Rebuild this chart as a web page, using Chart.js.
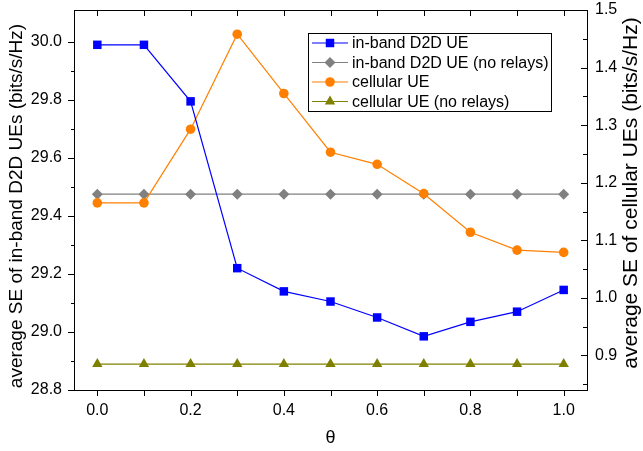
<!DOCTYPE html>
<html>
<head>
<meta charset="utf-8">
<script src="https://cdn.jsdelivr.net/npm/chart.js@4.4.0/dist/chart.umd.min.js"></script>
<style>
  html, body { margin: 0; padding: 0; background: #fff; }
  #contenedor { width: 643px; height: 451px; }
</style>
</head>
<body>
<div id="contenedor"><canvas id="grafica"></canvas></div>
<script>
// datos
const theta = [0.0, 0.1, 0.2, 0.3, 0.4, 0.5, 0.6, 0.7, 0.8, 0.9, 1.0];
const d2dRelays = [29.99, 29.99, 29.795, 29.22, 29.14, 29.105, 29.05, 28.985, 29.035, 29.07, 29.145];
const d2dNoRelays = [29.475, 29.475, 29.475, 29.475, 29.475, 29.475, 29.475, 29.475, 29.475, 29.475, 29.475];
const cellRelays = [1.165, 1.165, 1.293, 1.458, 1.355, 1.253, 1.232, 1.181, 1.114, 1.083, 1.079];
const cellNoRelays = [0.885, 0.885, 0.885, 0.885, 0.885, 0.885, 0.885, 0.885, 0.885, 0.885, 0.885];

const xTicks = [0.0, 0.2, 0.4, 0.6, 0.8, 1.0];
const yLeftTicks = [28.8, 29.0, 29.2, 29.4, 29.6, 29.8, 30.0];
const yRightTicks = [0.9, 1.0, 1.1, 1.2, 1.3, 1.4, 1.5];

const tituloIzq = 'average SE of in-band D2D UEs (bits/s/Hz)';
const tituloDer = 'average SE of cellular UEs (bits/s/Hz)';

const fuente = 'Arial, "Liberation Sans", sans-serif';
const puntos = arr => theta.map((t, i) => ({ x: t, y: arr[i] }));

// sin relleno extra para etiquetas en los bordes
const sinRelleno = s => { s.paddingTop = 0; s.paddingBottom = 0; s.paddingLeft = 0; s.paddingRight = 0; };

// texto girado, leído de abajo arriba
function textoVertical(ctx, texto, x, y, tam) {
  ctx.save();
  ctx.fillStyle = '#000';
  ctx.font = tam + 'px ' + fuente;
  ctx.textAlign = 'center';
  ctx.textBaseline = 'middle';
  ctx.translate(x, y);
  ctx.rotate(-Math.PI / 2);
  ctx.fillText(texto, 0, 0);
  ctx.restore();
}

// marcas de los ejes (mayores y menores), marco superior y títulos verticales
const marcasEjes = {
  id: 'marcasEjes',
  afterDraw(chart) {
    const { ctx, chartArea: a, scales } = chart;
    const r = v => Math.round(v) + 0.5;
    ctx.save();
    ctx.strokeStyle = '#000';
    ctx.lineWidth = 1;
    ctx.beginPath();
    ctx.moveTo(a.left, r(a.top));
    ctx.lineTo(a.right + 1, r(a.top));
    // eje x: abajo hacia fuera, arriba hacia dentro
    theta.forEach(t => {
      const px = r(scales.x.getPixelForValue(t));
      ctx.moveTo(px, a.bottom); ctx.lineTo(px, a.bottom + 6);
      ctx.moveTo(px, a.top); ctx.lineTo(px, a.top + 6);
    });
    // eje izquierdo
    for (let i = 0; i <= 12; i++) {
      const v = 28.8 + i * 0.1;
      const py = r(scales.y.getPixelForValue(v));
      const len = i % 2 === 0 ? 6 : 3;
      ctx.moveTo(a.left - len, py); ctx.lineTo(a.left, py);
    }
    // eje derecho (hacia dentro)
    for (let i = 0; i <= 13; i++) {
      const v = 0.85 + i * 0.05;
      const py = r(scales.y2.getPixelForValue(v));
      const len = i % 2 === 1 ? 6 : 4;
      ctx.moveTo(a.right - len, py); ctx.lineTo(a.right, py);
    }
    ctx.stroke();
    ctx.restore();

    textoVertical(ctx, tituloIzq, 17, 206, 19);
    textoVertical(ctx, tituloDer, 631, 193, 21);
  }
};

// leyenda dentro del área del gráfico
const leyenda = {
  id: 'leyenda',
  afterDraw(chart) {
    const { ctx } = chart;
    const x0 = 308, y0 = 33, w = 243, h = 78, fila = 19.5;
    ctx.save();
    ctx.fillStyle = '#fff';
    ctx.fillRect(x0, y0, w, h);
    ctx.strokeStyle = '#000';
    ctx.lineWidth = 1;
    ctx.strokeRect(x0 + 0.5, y0 + 0.5, w, h);
    chart.data.datasets.forEach((ds, i) => {
      const cy = y0 + 10 + i * fila;
      ctx.strokeStyle = ds.borderColor;
      ctx.lineWidth = 1.2;
      ctx.beginPath();
      ctx.moveTo(x0 + 4, cy); ctx.lineTo(x0 + 40, cy);
      ctx.stroke();
      ctx.fillStyle = ds.pointBackgroundColor;
      Chart.helpers.drawPoint(ctx, { pointStyle: ds.pointStyle, radius: ds.pointRadius, rotation: 0, borderWidth: 0 }, x0 + 22, cy);
      ctx.fillStyle = '#000';
      ctx.font = '16px ' + fuente;
      ctx.textAlign = 'left';
      ctx.textBaseline = 'middle';
      ctx.fillText(ds.label, x0 + 44, cy + 1);
    });
    ctx.restore();
  }
};

const ctx = document.getElementById('grafica').getContext('2d');
new Chart(ctx, {
  type: 'line',
  data: {
    datasets: [
      {
        label: 'in-band D2D UE', data: puntos(d2dRelays), yAxisID: 'y', order: 0,
        borderColor: '#0000ff', pointBackgroundColor: '#0000ff', pointStyle: 'rect', pointRadius: 6
      },
      {
        label: 'in-band D2D UE (no relays)', data: puntos(d2dNoRelays), yAxisID: 'y', order: 2,
        borderColor: '#808080', pointBackgroundColor: '#808080', pointStyle: 'rectRot', pointRadius: 5.5
      },
      {
        label: 'cellular UE', data: puntos(cellRelays), yAxisID: 'y2', order: 1,
        borderColor: '#ff8000', pointBackgroundColor: '#ff8000', pointStyle: 'circle', pointRadius: 4.8
      },
      {
        label: 'cellular UE (no relays)', data: puntos(cellNoRelays), yAxisID: 'y2', order: 3,
        borderColor: '#808000', pointBackgroundColor: '#808000', pointStyle: 'triangle', pointRadius: 6
      }
    ]
  },
  options: {
    responsive: true,
    maintainAspectRatio: false,
    animation: false,
    layout: { padding: { top: 10, left: 0, right: 0, bottom: 0 } },
    elements: {
      line: { borderWidth: 1.2, tension: 0 },
      point: { borderWidth: 0, hoverRadius: 6 }
    },
    plugins: {
      legend: { display: false },
      tooltip: { enabled: false }
    },
    scales: {
      x: {
        type: 'linear',
        min: -0.05,
        max: 1.05,
        afterBuildTicks: s => { s.ticks = xTicks.map(v => ({ value: v })); },
        afterFit: s => { s.height = 61; sinRelleno(s); },
        ticks: {
          color: '#000', font: { family: fuente, size: 16 }, padding: 11,
          maxRotation: 0, autoSkip: false,
          callback: v => Number(v).toFixed(1)
        },
        grid: { display: false, drawTicks: false },
        border: { display: true, color: '#000', width: 1 },
        title: { display: true, text: 'θ', color: '#000', font: { family: fuente, size: 18 }, padding: { top: 0, bottom: 2 } }
      },
      y: {
        position: 'left',
        min: 28.8,
        max: 30.11,
        afterBuildTicks: s => { s.ticks = yLeftTicks.map(v => ({ value: v })); },
        afterFit: s => { s.width = 74; sinRelleno(s); },
        ticks: {
          color: '#000', font: { family: fuente, size: 16 }, padding: 12, autoSkip: false,
          callback: v => Number(v).toFixed(1)
        },
        grid: { display: false, drawTicks: false },
        border: { display: true, color: '#000', width: 1 }
      },
      y2: {
        position: 'right',
        min: 0.84,
        max: 1.5,
        afterBuildTicks: s => { s.ticks = yRightTicks.map(v => ({ value: v })); },
        afterFit: s => { s.width = 56; sinRelleno(s); },
        ticks: {
          color: '#000', font: { family: fuente, size: 16 }, padding: 8, autoSkip: false,
          callback: v => Number(v).toFixed(1)
        },
        grid: { display: false, drawTicks: false },
        border: { display: true, color: '#000', width: 1 }
      }
    }
  },
  plugins: [marcasEjes, leyenda]
});
</script>
</body>
</html>
